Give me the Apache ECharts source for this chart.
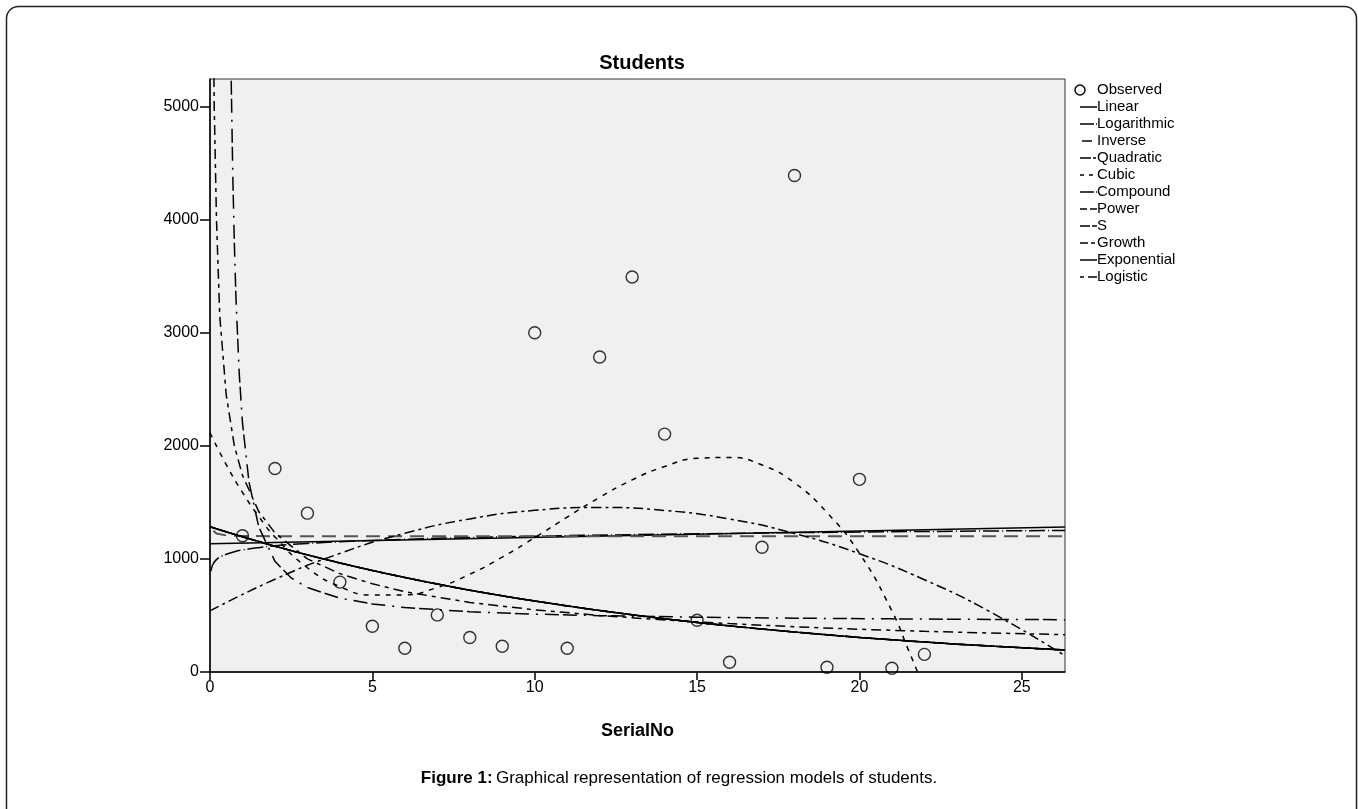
<!DOCTYPE html>
<html><head><meta charset="utf-8">
<script src="https://cdn.jsdelivr.net/npm/echarts@6/dist/echarts.min.js"></script>
<style>html,body{margin:0;padding:0;background:#fff}#c{width:1358px;height:809px}</style>
</head><body><div id="c"></div>
<script>
// Observed data
const obsX = [1,2,3,4,5,6,7,8,9,10,11,12,13,14,15,16,17,18,19,20,21,22];
const obsY = [1205,1800,1405,795,405,210,505,305,228,3000,210,2786,3494,2104,458,86,1103,4391,42,1704,33,156];

// Fitted curves
const linearX = [0, 26.33];
const linearY = [1135, 1283];

const logX = [0.03,0.06,0.1,0.2,0.35,0.5,0.75,1,1.5,2,3,4,6,8,10,13,16,20,23,26.33];
const logY = [893,930,957,994,1023,1042,1064,1079,1100,1116,1137,1152,1174,1189,1201,1215,1226,1238,1245,1252];

const invX = [0.1,0.2,0.5,1,2,5,10,15,20,26.33];
const invY = [1250,1225,1208,1203,1201,1200,1200,1200,1200,1200];

const quadX = [0,2,4,6,8,10,12,14,16,18,20,22,24,26.33];
const quadY = [540,820,1049,1227,1354,1430,1455,1429,1353,1225,1046,816,536,144];

const cubicX = [0,0.5,1,1.5,2,3,4,5,6,7,8,9,10,11,12,13,14,15,16,17,18,19,20,21,21.5,22];
const cubicY = [2115,1834,1588,1376,1195,922,755,680,682,748,864,1016,1189,1370,1545,1699,1818,1890,1898,1831,1673,1410,1050,540,200,-144];

const expX = [0,1,2,3,4,5,6,7,8,9,10,12,14,16,18,20,22,24,26.33];
const expY = [1285,1196,1113,1036,965,898,836,778,724,674,628,544,471,408,354,306,265,230,195];

const powerX = [0.1,0.13,0.2,0.3,0.5,0.75,1,1.5,2,3,4,5,6,8,10,12,14,16,18,20,22,24,26.33];
const powerY = [5900,5000,4000,3150,2450,2000,1740,1420,1230,1000,870,780,710,615,550,500,460,428,400,378,360,345,330];

const sX = [0.6,0.65,0.7,0.75,0.8,0.9,1,1.2,1.5,2,2.5,3,4,5,6,8,10,12,15,18,21,24,26.33];
const sY = [6503,5290,4420,3787,3306,2641,2204,1682,1284,979,832,747,653,602,570,533,512,498,485,476,470,465,463];

const xTicks = [0,5,10,15,20,25];
const yTicks = [0,1000,2000,3000,4000,5000];

const legendNames = ['Observed','Linear','Logarithmic','Inverse','Quadratic','Cubic','Compound','Power','S','Growth','Exponential','Logistic'];

function zip(xs, ys){ return xs.map((x,i)=>[x, ys[i]]); }

const FONT = 'Liberation Sans, Arial, sans-serif';
const dashes = {
  'Linear': null,
  'Logarithmic': [16,3,1,3],
  'Inverse': [14,8],
  'Quadratic': [10,4,3,4],
  'Cubic': [5,6],
  'Compound': [20,2,1,2],
  'Power': [10,5,4,5],
  'S': [14,4,14,7,2,7],
  'Growth': [8,4,3,4],
  'Exponential': null,
  'Logistic': [4,4,10,4]
};
// legend-sample styles: [start offset, end offset, dash]
const legendDash = {
  'Linear': [0,17,null],
  'Logarithmic': [0,17,[14,2,1,10]],
  'Inverse': [2,12,null],
  'Quadratic': [0,17,[11,2,3,10]],
  'Cubic': [0,17,[4,5,4,10]],
  'Compound': [0,17,[14,2,1,10]],
  'Power': [0,17,[7,3,7,10]],
  'S': [0,17,[10,2,5,10]],
  'Growth': [0,17,[8,3,4,10]],
  'Exponential': [0,17,null],
  'Logistic': [0,17,[4,4,9,10]]
};

function curve(name, xs, ys, extra){
  const d = dashes[name];
  return Object.assign({
    name, type:'line', data: zip(xs, ys), symbol:'none', smooth:false, clip:true,
    lineStyle:{color:'#000', width:1.5, type: d ? d : 'solid'},
    emphasis:{disabled:true}, z:3
  }, extra||{});
}

const legendGraphics = [];
const LX = 1080, LY = 90, LS = 17;
legendNames.forEach((n, i) => {
  const y = LY + i*LS;
  if (n === 'Observed') {
    legendGraphics.push({type:'circle', shape:{cx:LX, cy:y, r:5}, style:{fill:'none', stroke:'#000', lineWidth:1.4}, silent:true});
  } else {
    const ld = legendDash[n];
    const st = {stroke:'#000', lineWidth:1.5};
    if (ld[2]) st.lineDash = ld[2];
    legendGraphics.push({type:'line', shape:{x1:LX+ld[0], y1:y, x2:LX+ld[1], y2:y}, style:st, silent:true});
  }
  legendGraphics.push({type:'text', x:LX+17, y:y, style:{text:n, fontFamily:FONT, fontSize:15, fill:'#000', textVerticalAlign:'middle', verticalAlign:'middle'}, silent:true});
});

const chart = echarts.init(document.getElementById('c'), null, {renderer:'canvas'});
chart.setOption({
  animation:false,
  backgroundColor:'#fff',
  title:{text:'Students', left:637, top:48, textAlign:'center',
    textStyle:{fontFamily:FONT, fontSize:20, fontWeight:'bold', color:'#000'}},
  grid:{left:210, right:293, top:79, bottom:137, show:true, backgroundColor:'#F0F0F0', borderColor:'#333', borderWidth:1},
  xAxis:{type:'value', min:0, max:26.33, interval:5, name:'SerialNo', nameLocation:'middle', nameGap:50,
    nameTextStyle:{fontFamily:FONT, fontSize:18, fontWeight:'bold', color:'#000'},
    axisLine:{show:true, lineStyle:{color:'#000', width:1.5}}, axisTick:{show:true, length:8, lineStyle:{color:'#000', width:1.5}},
    axisLabel:{fontFamily:FONT, fontSize:16, color:'#000', margin:8, showMaxLabel:false,
      formatter:v => xTicks.includes(v) ? String(v) : ''},
    splitLine:{show:false}},
  yAxis:{type:'value', min:0, max:5245, interval:1000,
    axisLine:{show:true, lineStyle:{color:'#000', width:1.5}}, axisTick:{show:true, length:10, lineStyle:{color:'#000', width:1.5}},
    axisLabel:{fontFamily:FONT, fontSize:16, color:'#000', margin:11, showMaxLabel:false,
      formatter:v => yTicks.includes(v) ? String(v) : ''},
    splitLine:{show:false}},
  series:[
    curve('Linear', linearX, linearY),
    curve('Logarithmic', logX, logY, {smooth:true}),
    curve('Inverse', invX, invY, {lineStyle:{color:'#555', width:2, type:dashes['Inverse']}}),
    curve('Quadratic', quadX, quadY, {smooth:true}),
    curve('Cubic', cubicX, cubicY, {smooth:true}),
    curve('Compound', expX, expY, {smooth:true}),
    curve('Power', powerX, powerY),
    curve('S', sX, sY),
    curve('Growth', expX, expY, {smooth:true}),
    curve('Exponential', expX, expY, {smooth:true}),
    curve('Logistic', expX, expY, {smooth:true}),
    {name:'Observed', type:'scatter', data: zip(obsX, obsY), symbol:'circle', symbolSize:12, z:5,
      itemStyle:{color:'rgba(0,0,0,0)', borderColor:'#000', borderWidth:1.4}, emphasis:{disabled:true}}
  ],
  graphic:[
    {type:'rect', left:4, top:4, shape:{x:0, y:0, width:1350, height:840, r:12}, style:{fill:'none', stroke:'#222', lineWidth:1.5}, silent:true},
    {type:'text', left:'center', top:770, style:{
      rich:{b:{fontFamily:FONT, fontSize:17, fontWeight:'bold', fill:'#000'}, n:{fontFamily:FONT, fontSize:17, fill:'#000'}},
      text:'{b|Figure 1:} {n|Graphical representation of regression models of students.}'}, silent:true}
  ].concat(legendGraphics)
});
</script></body></html>
